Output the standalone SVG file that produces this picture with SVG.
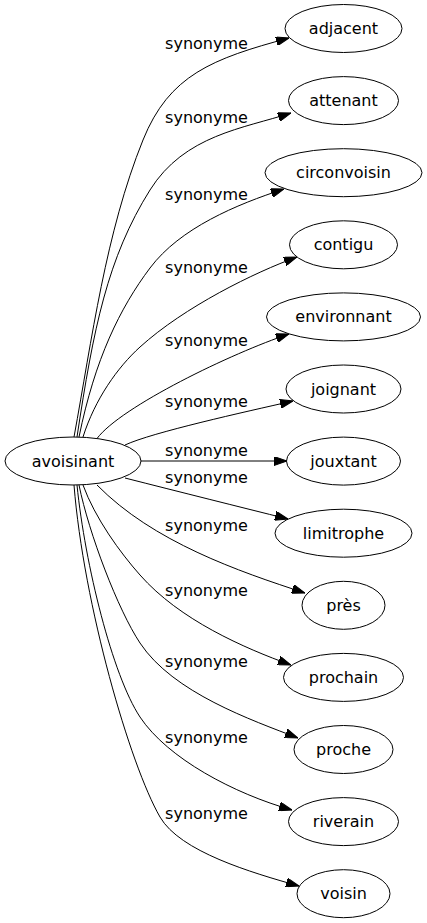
<svg xmlns="http://www.w3.org/2000/svg" width="427" height="923" viewBox="0 0 427 923">
<style>
.node ellipse{fill:#fff;stroke:#000;stroke-width:1}
text{font-family:"DejaVu Sans","Liberation Sans",sans-serif;font-size:16px;fill:#000;text-anchor:middle}
.edges path{fill:none;stroke:#000;stroke-width:1;marker-end:url(#arr)}
</style>
<defs>
<marker id="arr" markerUnits="userSpaceOnUse" viewBox="0 0 13 9" markerWidth="13" markerHeight="9" refX="13" refY="4.5" orient="auto">
<path d="M0,0 L13,4.5 L0,9 Z" fill="#000" stroke="#000" stroke-width="1"/>
</marker>
</defs>
<rect width="427" height="923" fill="#fff"/>
<g class="edges" id="edges">
<path d="M74,437 C92,339 105.6,232.7 143,140 C169.2,75.1 211.8,58.8 289,38"/>
<path d="M77,437 C93.5,328 107.5,257.8 150,190 C184.5,134.9 243.5,128.5 291,113"/>
<path d="M79,437 C95,358.6 120,308 150,268 C180,228 236.5,204.5 284,189"/>
<path d="M83,437 C95,399 117.8,367.1 140,347 C184.4,306.8 254.7,272.3 297,257"/>
<path d="M97,438.5 C121,406.5 232,353 289,334"/>
<path d="M125,445 C152,432.4 244.5,412 293,401"/>
<path d="M141,461 L287,461"/>
<path d="M125,478 C180,492 240,507 288,519"/>
<path d="M97,485 C153,542 238.5,571.3 305,593"/>
<path d="M83,485 C95,518 120,552.5 140,575 C179.6,620 244,648 291,665"/>
<path d="M79,485 C89,534 118,609.8 140,643 C173,692.8 251.5,720 298,738"/>
<path d="M77,485 C85,564.6 112.5,675.5 140,717 C167.5,758.5 234.4,793.8 292,810"/>
<path d="M74,485 C83.6,605 130,765 160,817 C180,851.6 251,872.5 299,886"/>
</g>
<g id="edge-labels">
<text x="206.5" y="49">synonyme</text>
<text x="206.5" y="123">synonyme</text>
<text x="206.5" y="200">synonyme</text>
<text x="206.5" y="273">synonyme</text>
<text x="206.5" y="346">synonyme</text>
<text x="206.5" y="407">synonyme</text>
<text x="206.5" y="456">synonyme</text>
<text x="206.5" y="483">synonyme</text>
<text x="206.5" y="531">synonyme</text>
<text x="206.5" y="596">synonyme</text>
<text x="206.5" y="667">synonyme</text>
<text x="206.5" y="743">synonyme</text>
<text x="206.5" y="819">synonyme</text>
</g>
<g class="node" id="avoisinant"><ellipse cx="73" cy="461" rx="68" ry="24"/><text x="73" y="466.5">avoisinant</text></g>
<g class="node" id="adjacent"><ellipse cx="343.5" cy="28.5" rx="58.5" ry="24"/><text x="343.5" y="34">adjacent</text></g>
<g class="node" id="attenant"><ellipse cx="343.5" cy="100.6" rx="55" ry="24"/><text x="343.5" y="106.1">attenant</text></g>
<g class="node" id="circonvoisin"><ellipse cx="343.5" cy="172.7" rx="78.5" ry="24"/><text x="343.5" y="178.2">circonvoisin</text></g>
<g class="node" id="contigu"><ellipse cx="343.5" cy="244.8" rx="54" ry="24"/><text x="343.5" y="250.3">contigu</text></g>
<g class="node" id="environnant"><ellipse cx="343.5" cy="316.9" rx="77" ry="24"/><text x="343.5" y="322.4">environnant</text></g>
<g class="node" id="joignant"><ellipse cx="343.5" cy="389" rx="57.5" ry="24"/><text x="343.5" y="394.5">joignant</text></g>
<g class="node" id="jouxtant"><ellipse cx="343.5" cy="461.1" rx="57" ry="24"/><text x="343.5" y="466.6">jouxtant</text></g>
<g class="node" id="limitrophe"><ellipse cx="343.5" cy="533.2" rx="68.5" ry="24"/><text x="343.5" y="538.7">limitrophe</text></g>
<g class="node" id="pres"><ellipse cx="343.5" cy="605.3" rx="41.5" ry="24"/><text x="343.5" y="610.8">près</text></g>
<g class="node" id="prochain"><ellipse cx="343.5" cy="677.4" rx="60" ry="24"/><text x="343.5" y="682.9">prochain</text></g>
<g class="node" id="proche"><ellipse cx="343.5" cy="749.5" rx="49.5" ry="24"/><text x="343.5" y="755">proche</text></g>
<g class="node" id="riverain"><ellipse cx="343.5" cy="821.6" rx="55" ry="24"/><text x="343.5" y="827.1">riverain</text></g>
<g class="node" id="voisin"><ellipse cx="343.5" cy="893.7" rx="46.5" ry="24"/><text x="343.5" y="899.2">voisin</text></g>
</svg>
